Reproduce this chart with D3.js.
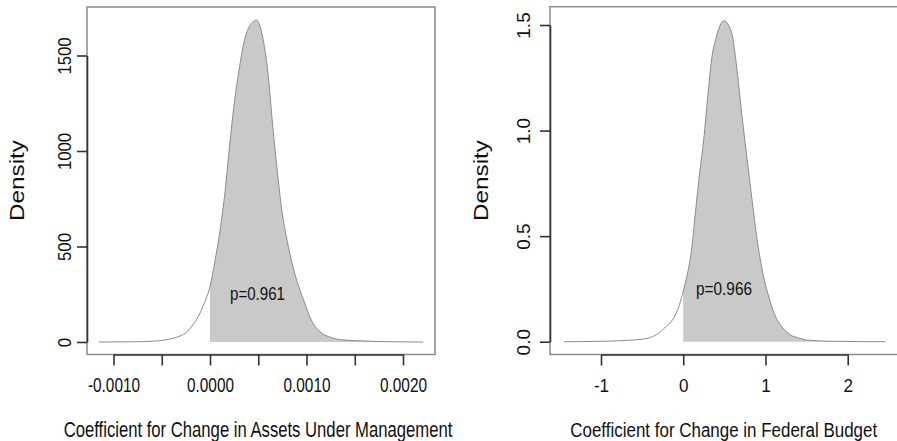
<!DOCTYPE html>
<meta charset="utf-8">
<style>
body { margin: 0; background: #fff; }
svg { display: block; font-family: "Liberation Sans", Arial, sans-serif; }
.box { fill: none; stroke: #8a8a8a; stroke-width: 1.5px; }
.axis path, .axis line { stroke: #333; stroke-width: 1.6px; }
.axis text { fill: #111; }
.fillarea { fill: #c9c9c9; stroke: none; }
.curve { fill: none; stroke: #8c8c8c; stroke-width: 1px; }
</style>
<svg width="897" height="441"></svg>
<script src="https://d3js.org/d3.v7.min.js"></script>
<script>
// left panel: posterior density of the AUM coefficient
var leftX = [-0.00115, -0.0008, -0.0006, -0.00045, -0.00034, -0.00025, -0.00018, -0.00012, -0.00007, -0.00003,
  0, 0.00005, 0.0001, 0.00015, 0.0002, 0.00025, 0.0003, 0.00035, 0.0004, 0.00045, 0.00048, 0.00051, 0.00055,
  0.0006, 0.00065, 0.0007, 0.00075, 0.0008, 0.00086, 0.0009, 0.00097, 0.00102, 0.00107, 0.00115, 0.00128,
  0.0014, 0.0016, 0.0019, 0.00221];
var leftDensity = [0, 1, 4, 12, 26, 48, 88, 135, 190, 240,
  290, 420, 570, 760, 1010, 1245, 1420, 1565, 1645, 1678, 1686, 1665, 1585,
  1410, 1130, 880, 670, 530, 393, 320, 220, 150, 95, 50, 20,
  10, 5, 1, 0];
var leftXTicks = [-0.001, -0.0005, 0, 0.0005, 0.001, 0.0015, 0.002];
var leftXLabels = ["-0.0010", "", "0.0000", "", "0.0010", "", "0.0020"];
var leftYTicks = [0, 500, 1000, 1500];
var leftYLabels = ["0", "500", "1000", "1500"];

// right panel: posterior density of the federal budget coefficient
var rightX = [-1.45, -1.0, -0.7, -0.5, -0.4, -0.3, -0.2, -0.12, -0.05,
  0, 0.05, 0.1, 0.15, 0.2, 0.25, 0.3, 0.35, 0.4, 0.45, 0.5, 0.55, 0.6, 0.65, 0.7, 0.75, 0.8, 0.85,
  0.9, 0.95, 1.0, 1.05, 1.1, 1.15, 1.2, 1.3, 1.4, 1.5, 1.8, 2.46];
var rightDensity = [0, 0.002, 0.006, 0.012, 0.02, 0.04, 0.075, 0.11, 0.17,
  0.24, 0.32, 0.43, 0.62, 0.8, 0.96, 1.17, 1.35, 1.44, 1.5, 1.52, 1.5, 1.445, 1.3, 1.12, 0.95, 0.79, 0.63,
  0.48, 0.36, 0.27, 0.2, 0.14, 0.098, 0.07, 0.033, 0.018, 0.008, 0.002, 0];
var rightXTicks = [-1, 0, 1, 2];
var rightXLabels = ["-1", "0", "1", "2"];
var rightYTicks = [0, 0.5, 1, 1.5];
var rightYLabels = ["0.0", "0.5", "1.0", "1.5"];

var panels = [
  {xs: leftX, ys: leftDensity, xTicks: leftXTicks, xLabels: leftXLabels, yTicks: leftYTicks, yLabels: leftYLabels,
   xDomain: [-0.001, 0.002], xRange: [113.5, 403], yDomain: [0, 1500], yRange: [342, 55.5],
   box: [87, 7, 435, 354.5], p: "p=0.961", pPos: [257.5, 300], pLen: 55,
   title: "Coefficient for Change in Assets Under Management", titleX: 258, titleLen: 389, titleSize: 22,
   xlabSize: 20, xlabSx: 0.77, ylabSx: 0.88, ylabOff: -16, densX: 23.5},
  {xs: rightX, ys: rightDensity, xTicks: rightXTicks, xLabels: rightXLabels, yTicks: rightYTicks, yLabels: rightYLabels,
   xDomain: [-1, 2], xRange: [601, 847.7], yDomain: [0, 1.5], yRange: [341.7, 25],
   box: [550, 6.7, 898, 354.5], p: "p=0.966", pPos: [724, 295], pLen: 56,
   title: "Coefficient for Change in Federal Budget", titleX: 723.7, titleLen: 307, titleSize: 21,
   xlabSize: 19, xlabSx: 0.9, ylabSx: 1.0, ylabOff: -20, densX: 487.5}
];

var svg = d3.select("svg");

// squeeze a text horizontally (in its own frame) so it is `len` px wide
function fitText(sel, pre, len) {
  var w = sel.node().getComputedTextLength();
  sel.attr("transform", pre + " scale(" + (len / w) + ",1)");
}

panels.forEach(function(P) {
  var x = d3.scaleLinear().domain(P.xDomain).range(P.xRange),
      y = d3.scaleLinear().domain(P.yDomain).range(P.yRange);
  var pts = P.xs.map(function(v, i) { return {x: v, d: P.ys[i]}; });
  var g = svg.append("g");

  var area = d3.area()
      .curve(d3.curveMonotoneX)
      .x(function(d) { return x(d.x); })
      .y0(y(0))
      .y1(function(d) { return y(d.d); });
  g.append("path")
      .attr("class", "fillarea")
      .attr("d", area(pts.filter(function(d) { return d.x >= 0; })));

  var line = d3.line()
      .curve(d3.curveMonotoneX)
      .x(function(d) { return x(d.x); })
      .y(function(d) { return y(d.d); });
  g.append("path")
      .attr("class", "curve")
      .attr("d", line(pts));

  var b = P.box;
  g.append("rect")
      .attr("class", "box")
      .attr("x", b[0]).attr("y", b[1])
      .attr("width", b[2] - b[0]).attr("height", b[3] - b[1]);

  // x axis
  var xa = g.append("g")
      .attr("class", "axis")
      .attr("transform", "translate(0," + b[3] + ")")
      .call(d3.axisBottom(x).tickValues(P.xTicks).tickSize(11).tickSizeOuter(0)
        .tickFormat(function(d, i) { return P.xLabels[i]; }));
  xa.selectAll("text")
      .attr("y", null).attr("dy", null)
      .attr("transform", "translate(0,37) scale(" + P.xlabSx + ",1)")
      .style("font-size", P.xlabSize + "px");

  // y axis
  var ya = g.append("g")
      .attr("class", "axis")
      .attr("transform", "translate(" + b[0] + ",0)")
      .call(d3.axisLeft(y).tickValues(P.yTicks).tickSize(10).tickSizeOuter(0)
        .tickFormat(function(d, i) { return P.yLabels[i]; }));
  ya.selectAll("text")
      .attr("x", null).attr("dy", null)
      .attr("text-anchor", "middle")
      .attr("transform", "translate(" + P.ylabOff + ",0) rotate(-90) scale(" + P.ylabSx + ",1)")
      .style("font-size", "19px");
  xa.select(".domain").attr("stroke", "#333");
  ya.select(".domain").attr("stroke", "#333");

  var pt = g.append("text")
      .attr("text-anchor", "middle")
      .style("font-size", "18.5px").style("fill", "#111")
      .text(P.p);
  fitText(pt, "translate(" + P.pPos[0] + "," + P.pPos[1] + ")", P.pLen);

  var tt = g.append("text")
      .attr("text-anchor", "middle")
      .style("font-size", P.titleSize + "px").style("fill", "#111")
      .text(P.title);
  fitText(tt, "translate(" + P.titleX + ",436.5)", P.titleLen);

  var dt = g.append("text")
      .attr("text-anchor", "middle")
      .style("font-size", "21px").style("fill", "#111")
      .text("Density");
  fitText(dt, "translate(" + P.densX + ",180.5) rotate(-90)", 81);
});
</script>
